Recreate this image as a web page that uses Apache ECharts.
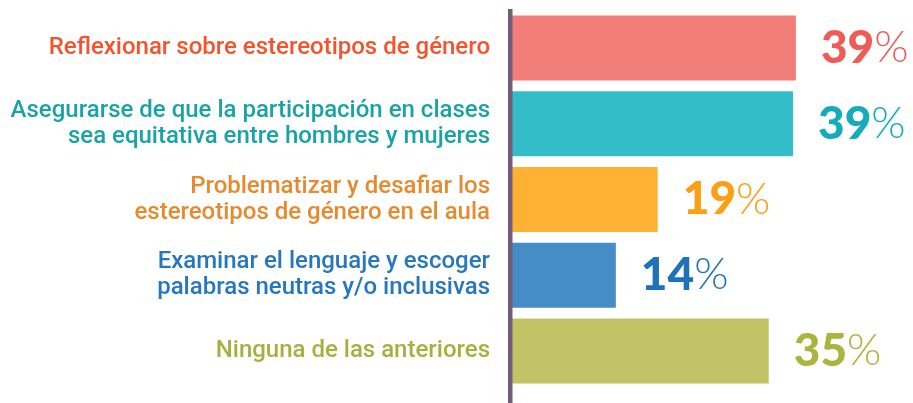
<!DOCTYPE html>
<html>
<head>
<meta charset="utf-8">
<script src="https://cdn.jsdelivr.net/npm/echarts@6/dist/echarts.min.js"></script>
<style>
  html, body { margin: 0; padding: 0; background: #fff; }
  #chart { width: 913px; height: 403px; }
</style>
</head>
<body>
<div id="chart"></div>
<script>
// respuestas (orden de arriba a abajo)
const categories = [
  "Reflexionar sobre estereotipos de género",
  "Asegurarse de que la participación en clases\nsea equitativa entre hombres y mujeres",
  "Problematizar y desafiar los\nestereotipos de género en el aula",
  "Examinar el lenguaje y escoger\npalabras neutras y/o inclusivas",
  "Ninguna de las anteriores"
];
// largo de barras (%)
const values = [38.9, 38.5, 20.1, 14.4, 35.2];
// texto mostrado
const pctLabels = ["39", "39", "19", "14", "35"];

const barColors = ["#F27E79", "#33BDC8", "#FEB133", "#468DC8", "#C0C467"];
const textColors = ["#F4532C", "#1AA3A6", "#E58A2E", "#2577C0", "#A6B03F"];
const numColors = ["#EE5C55", "#14ABBA", "#FBA013", "#1E72B9", "#AAB43F"];

const chart = echarts.init(document.getElementById("chart"));

const seriesData = values.map(function(v, i) {
  return {
    value: v,
    itemStyle: { color: barColors[i] },
    label: {
      formatter: "{n|" + pctLabels[i] + "}{p|%}",
      rich: {
        n: { color: numColors[i], fontFamily: "Lato", fontWeight: 900, fontSize: 46 },
        p: { color: numColors[i], fontFamily: "Lato", fontWeight: 300, fontSize: 44 }
      }
    }
  };
});

chart.setOption({
  animation: false,
  grid: {
    left: 510,
    right: 35.5,
    top: 10,
    bottom: 14,
    containLabel: false
  },
  xAxis: {
    type: "value",
    min: 0,
    max: 50,
    show: false
  },
  yAxis: {
    type: "category",
    inverse: true,
    data: categories,
    axisLine: { show: false },
    axisTick: { show: false },
    splitLine: { show: false },
    axisLabel: {
      margin: 20,
      fontFamily: "Roboto",
      fontWeight: 500,
      fontSize: 24,
      lineHeight: 26,
      align: "right",
      color: function(value, index) {
        return textColors[index];
      }
    }
  },
  series: [
    {
      type: "bar",
      barWidth: 65,
      data: seriesData,
      label: {
        show: true,
        position: "right",
        distance: 25
      }
    }
  ],
  graphic: [
    {
      // línea vertical del eje
      type: "rect",
      z: 100,
      shape: { x: 508, y: 9, width: 4.5, height: 394 },
      style: { fill: "#735C78" }
    }
  ]
});
</script>
</body>
</html>
